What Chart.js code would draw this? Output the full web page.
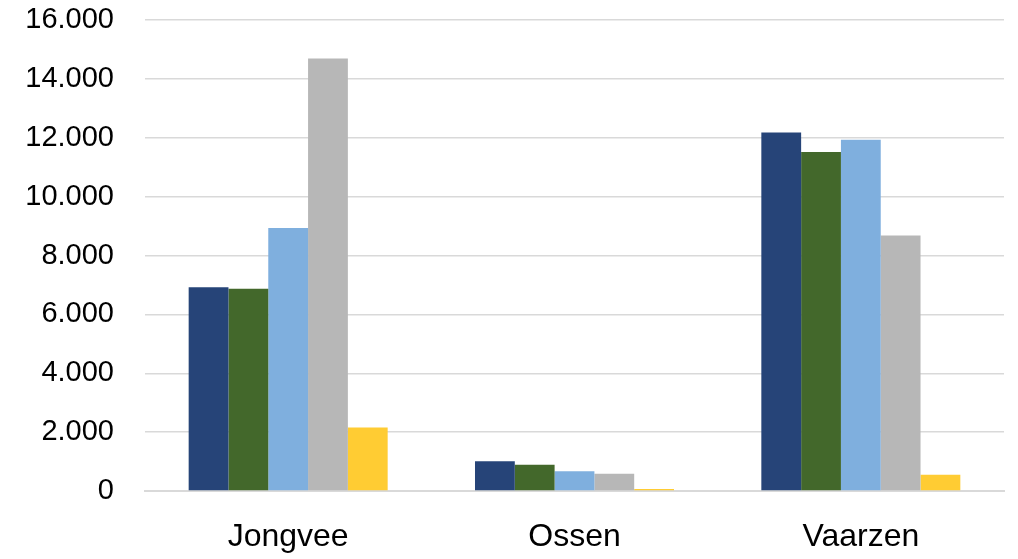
<!DOCTYPE html>
<html>
<head>
<meta charset="utf-8">
<script src="https://cdn.jsdelivr.net/npm/chart.js@4"></script>
<style>
  html, body { margin: 0; padding: 0; background: #fff; }
  #wrap { width: 1018px; height: 559px; }
</style>
</head>
<body>
<div id="wrap"><canvas id="barChart"></canvas></div>
<script>
const categories = ['Jongvee', 'Ossen', 'Vaarzen'];

const palette = [
  '#264478', // series 1
  '#43682b', // series 2
  '#7fafde', // series 3
  '#b7b7b7', // series 4
  '#ffcc33'  // series 5
];

const series1 = [6920, 1010, 12180];
const series2 = [6870, 890, 11520];
const series3 = [8930, 670, 11930];
const series4 = [14690, 590, 8680];
const series5 = [2160, 70, 550];

const allSeries = [series1, series2, series3, series4, series5];

const fmt = v => v.toLocaleString('nl-NL');

new Chart(document.getElementById('barChart'), {
  type: 'bar',
  data: {
    labels: categories,
    datasets: allSeries.map((vals, idx) => ({
      label: 'Reeks ' + (idx + 1),
      data: vals,
      backgroundColor: palette[idx],
      borderWidth: 0,
      barPercentage: 1,
      categoryPercentage: 0.695
    }))
  },
  options: {
    responsive: true,
    maintainAspectRatio: false,
    animation: false,
    layout: { padding: { left: 0, right: 14, top: 20, bottom: 0 } },
    plugins: { legend: { display: false }, tooltip: { enabled: false } },
    scales: {
      x: {
        afterFit: scale => { scale.height = 68; },
        grid: { display: false, drawTicks: false },
        border: { display: true, color: '#d9d9d9', width: 2 },
        ticks: {
          color: '#000',
          font: { family: 'Liberation Sans', size: 32 },
          padding: 27
        }
      },
      y: {
        min: 0,
        max: 16000,
        afterFit: scale => {
          scale.width = 145;
          scale.paddingTop = 0;
          scale.paddingBottom = 0;
        },
        grid: { color: '#d9d9d9', lineWidth: 1.5, drawTicks: false },
        border: { display: false },
        ticks: {
          stepSize: 2000,
          color: '#000',
          font: { family: 'Liberation Sans', size: 29 },
          padding: 31,
          callback: v => fmt(v)
        }
      }
    }
  }
});
</script>
</body>
</html>
